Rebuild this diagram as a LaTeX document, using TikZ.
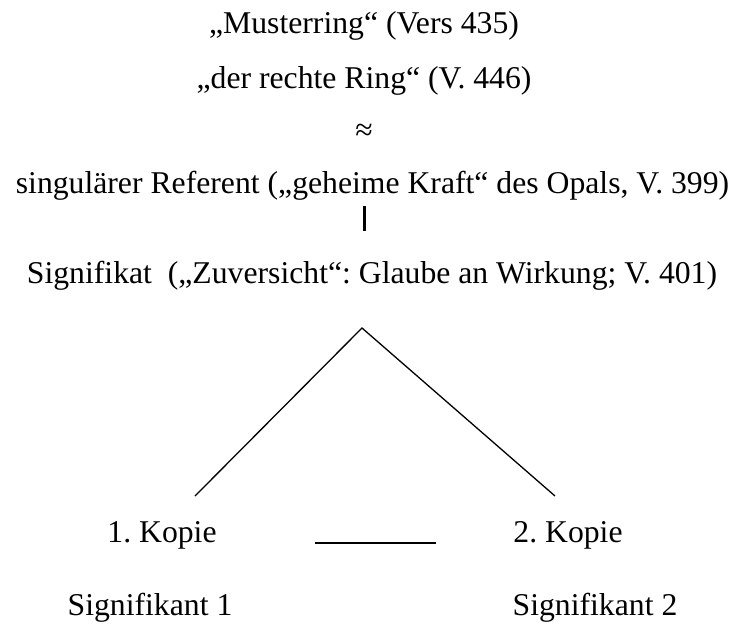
\documentclass[tikz,border=0pt]{standalone}
\usepackage{fontspec}
\setmainfont{Liberation Serif}
\frenchspacing
\begin{document}
\begin{tikzpicture}[x=1pt,y=-1pt,
  lbl/.style={anchor=base,inner sep=0pt,font=\fontsize{31.7}{38}\selectfont\frenchspacing},
  thin line/.style={line width=1.3pt},
  thick bar/.style={line width=3pt},
  link/.style={line width=2pt}]
\useasboundingbox (0,0) rectangle (738,625);
\node[lbl] (l1) at (364,33) {„Musterring“ (Vers 435)};
\node[lbl] (l2) at (364,88) {„der rechte Ring“ (V. 446)};
\node[lbl] (approx) at (364,140) {≈};
\node[lbl] (ref) at (372.5,193) {singulärer Referent („geheime Kraft“ des Opals, V. 399)};
\node[lbl] (sig) at (372,283) {Signifikat\ \ („Zuversicht“: Glaube an Wirkung; V. 401)};
\node[lbl] (k1) at (162,542) {1. Kopie};
\node[lbl] (k2) at (568,542) {2. Kopie};
\node[lbl] (s1) at (150,615) {Signifikant 1};
\node[lbl] (s2) at (595,615) {Signifikant 2};
\coordinate (bartop) at (364,206);
\coordinate (barbot) at (364,231);
\coordinate (apex) at (362,328);
\coordinate (lend) at (195,496);
\coordinate (rend) at (555,496);
\coordinate (hl) at (315,543);
\coordinate (hr) at (436,543);
\draw[thick bar] (bartop) -- (barbot);
\draw[thin line] (lend) -- (apex) -- (rend);
\draw[link] (hl) -- (hr);
\end{tikzpicture}
\end{document}
